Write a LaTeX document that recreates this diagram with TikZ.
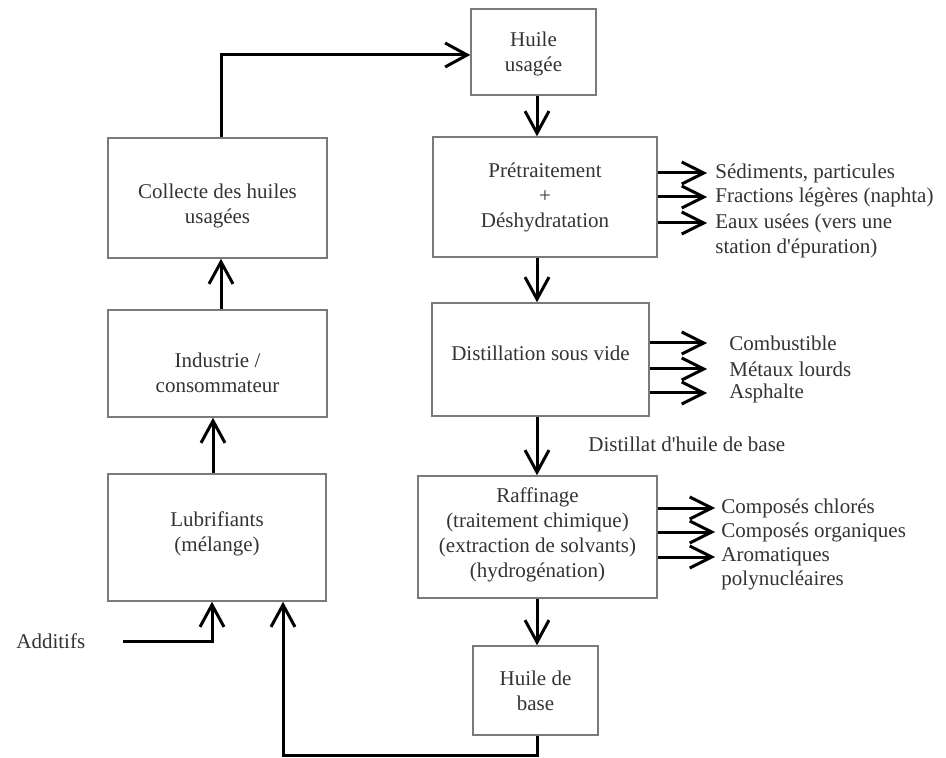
\documentclass[tikz,border=0pt]{standalone}
\usepackage{fontspec}
\setmainfont{LiberationSerif-Regular.ttf}
\newfontfamily\timesf{LiberationSerif-Regular.ttf}
\usetikzlibrary{arrows.meta,calc}
\definecolor{txtc}{HTML}{333333}
\definecolor{boxc}{HTML}{7A7A7A}
\begin{document}
\begin{tikzpicture}[x=0.5pt,y=-0.5pt,
  box/.style={draw=boxc, line width=0.75pt, inner sep=0pt},
  txt/.style={text=txtc, font=\timesf\fontsize{10.5}{12.5}\selectfont, align=center, inner sep=0pt},
  outtxt/.style={txt, anchor=west, align=left},
  arr/.style={line width=1.5pt, line join=miter, -{Straight Barb[length=11pt,width=12pt]}},
  oarr/.style={line width=1.5pt, -{Straight Barb[length=11pt,width=11pt]}}]
\useasboundingbox (0,0) rectangle (946,758);

% boxes
\node[box, minimum width=62.5pt, minimum height=43pt]   (hu)  at (533.5,52)  {};
\node[box, minimum width=112pt, minimum height=60pt]    (pre) at (545,197)   {};
\node[box, minimum width=108.5pt, minimum height=56.5pt] (dist) at (540.5,359.5) {};
\node[box, minimum width=119.5pt, minimum height=61pt]  (raf) at (537.5,537) {};
\node[box, minimum width=62.5pt, minimum height=44.5pt] (hb)  at (535.5,690.5) {};
\node[box, minimum width=109.5pt, minimum height=60pt]  (col) at (217.5,198) {};
\node[box, minimum width=109.5pt, minimum height=53.5pt] (ind) at (217.5,363.5) {};
\node[box, minimum width=109pt, minimum height=63.5pt]  (lub) at (217,537.5) {};

% box texts
\node[txt] (hut)  at ($(hu)+(0,1.5)$)   {Huile\\usagée};
\node[txt] (pret) at ($(pre)+(0,0)$)    {Prétraitement\\+\\Déshydratation};
\node[txt] (distt) at ($(dist)+(0,-6)$) {Distillation sous vide};
\node[txt] (raft) at ($(raf)+(0,-2.5)$) {Raffinage\\(traitement chimique)\\(extraction de solvants)\\(hydrogénation)};
\node[txt] (hbt)  at ($(hb)+(0,0)$)     {Huile de\\base};
\node[txt] (colt) at ($(col)+(0,8)$)    {Collecte des huiles\\usagées};
\node[txt] (indt) at ($(ind)+(0,9)$)    {Industrie /\\consommateur};
\node[txt] (lubt) at ($(lub)+(0,-4)$)   {Lubrifiants\\(mélange)};

% output texts
\node[outtxt] (s1) at (715,173) {Sédiments, particules};
\node[outtxt] (s2) at (715,197) {Fractions légères (naphta)};
\node[outtxt] (s3) at (715,223) {Eaux usées (vers une};
\node[outtxt] (s3b) at (715,248) {station d'épuration)};
\node[outtxt] (d1) at (729,343) {Combustible};
\node[outtxt] (d2) at (729,369) {Métaux lourds};
\node[outtxt] (d3) at (729,393) {Asphalte};
\node[outtxt] (r1) at (721,508) {Composés chlorés};
\node[outtxt] (r2) at (721,532) {Composés organiques};
\node[outtxt] (r3) at (721,557) {Aromatiques};
\node[outtxt] (r3b) at (721,580) {polynucléaires};
\node[outtxt] (dl) at (588,444) {Distillat d'huile de base};
\node[outtxt] (add) at (16,641) {Additifs};

% helper coordinates
\coordinate (spine) at (537,0);
\coordinate (lx1) at (221,55);
\coordinate (lx2) at (213,0);
\coordinate (a0) at (123,641);
\coordinate (a1) at (212,641);
\coordinate (rb) at (283,755);

% main chain
\draw[arr] (hu.south -| spine) -- (pre.north -| spine);
\draw[arr] (pre.south -| spine) -- (dist.north -| spine);
\draw[arr] (dist.south -| spine) -- (raf.north -| spine);
\draw[arr] (raf.south -| spine) -- (hb.north -| spine);

% left column
\draw[arr] (col.north -| lx1) -- (lx1) -- (hu.west |- lx1);
\draw[arr] (ind.north -| lx1) -- (col.south -| lx1);
\draw[arr] (lub.north -| lx2) -- (ind.south -| lx2);
\draw[arr] (a0) -- (a1) -- (lub.south -| a1);
\draw[arr] (hb.south -| spine) |- (rb) -- (lub.south -| rb);

% outputs
\draw[oarr, shorten >=4pt] (pre.east |- s1) -- (s1.west);
\draw[oarr, shorten >=4pt] (pre.east |- s2) -- (s2.west);
\draw[oarr, shorten >=4pt] (pre.east |- s3) -- (s3.west);
\draw[oarr, shorten >=11pt] (dist.east |- d1) -- (d1.west);
\draw[oarr, shorten >=11pt] (dist.east |- d2) -- (d2.west);
\draw[oarr, shorten >=11pt] (dist.east |- d3) -- (d3.west);
\draw[oarr, shorten >=3pt] (raf.east |- r1) -- (r1.west);
\draw[oarr, shorten >=3pt] (raf.east |- r2) -- (r2.west);
\draw[oarr, shorten >=3pt] (raf.east |- r3) -- (r3.west);
\end{tikzpicture}
\end{document}
